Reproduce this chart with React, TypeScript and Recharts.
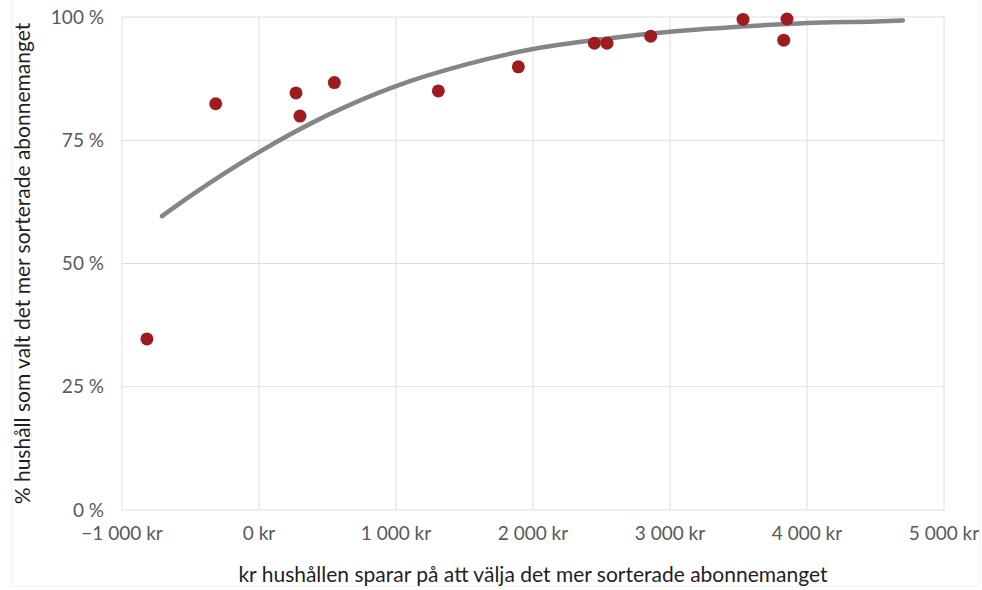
import React from 'react';
import { ComposedChart, Scatter, Line, XAxis, YAxis, CartesianGrid } from 'recharts';

// observed households: savings (kr) vs share choosing the sorted subscription
const savingsKr = [-818, -316, 270, 299, 550, 1309, 1893, 2448, 2540, 2859, 3533, 3854, 3830];
const shareChosen = [0.347, 0.824, 0.846, 0.799, 0.867, 0.85, 0.899, 0.947, 0.947, 0.961, 0.995, 0.996, 0.953];

// fitted curve
const curveKr = [-708, -500, 0, 500, 1000, 1500, 2000, 2500, 3000, 3500, 4000, 4500, 4700];
const curveShare = [0.596, 0.637, 0.726, 0.801, 0.86, 0.903, 0.935, 0.955, 0.97, 0.98, 0.988, 0.991, 0.993];

const xTicks = [-1000, 0, 1000, 2000, 3000, 4000, 5000];
const yTicks = [0, 0.25, 0.5, 0.75, 1];

const points = savingsKr.map((x, i) => ({ x, y: shareChosen[i] }));
const curve = curveKr.map((x, i) => ({ x, y: curveShare[i] }));

const FONT = 'Lato, "Open Sans", sans-serif';

const fmtKr = (v: number) => {
  const s = Math.abs(v).toString().replace(/\B(?=(\d{3})+(?!\d))/g, ' ');
  return (v < 0 ? '\u2212' : '') + s + ' kr';
};
const fmtPct = (v: number) => `${Math.round(v * 100)} %`;

const Dot = (props: any) => <circle cx={props.cx} cy={props.cy} r={6.5} fill="#9e1c1f" />;

export default function App() {
  return (
    <div style={{ position: 'absolute', left: 0, top: 0, width: 982, height: 590, background: '#fff', fontFamily: FONT }}>
      <div style={{ position: 'absolute', left: 11, top: 0, width: 967, height: 586, borderLeft: '1px solid #f3f3f3', borderRight: '1px solid #f3f3f3', borderBottom: '1px solid #f3f3f3' }} />
      <ComposedChart width={982} height={590} margin={{ top: 17, right: 38, bottom: 4, left: 10 }} style={{ position: 'absolute', left: 0, top: 0 }}>
        <CartesianGrid stroke="#dedede" strokeWidth={1} />
        <XAxis
          type="number"
          dataKey="x"
          domain={[-1000, 5000]}
          ticks={xTicks}
          tickFormatter={fmtKr}
          axisLine={false}
          tickLine={false}
          tickSize={0}
          tickMargin={17}
          height={76}
          tick={{ fill: '#595959', fontSize: 19, fontFamily: FONT }}
          interval={0}
          label={{ value: 'kr hushållen sparar på att välja det mer sorterade abonnemanget', position: 'insideBottom', offset: 4, fill: '#1f1f1f', fontSize: 21, fontFamily: FONT }}
        />
        <YAxis
          type="number"
          dataKey="y"
          domain={[0, 1]}
          ticks={yTicks}
          tickFormatter={fmtPct}
          axisLine={false}
          tickLine={false}
          tickSize={0}
          tickMargin={18}
          width={112}
          tick={{ fill: '#595959', fontSize: 19, fontFamily: FONT }}
          interval={0}
          label={{ value: '% hushåll som valt det mer sorterade abonnemanget', angle: -90, position: 'insideLeft', offset: 13, style: { textAnchor: 'middle' }, fill: '#1f1f1f', fontSize: 21, fontFamily: FONT }}
        />
        <Line data={curve} dataKey="y" type="monotone" stroke="#858585" strokeWidth={4.5} strokeLinecap="round" dot={false} activeDot={false} isAnimationActive={false} />
        <Scatter data={points} dataKey="y" shape={<Dot />} isAnimationActive={false} />
      </ComposedChart>
    </div>
  );
}
